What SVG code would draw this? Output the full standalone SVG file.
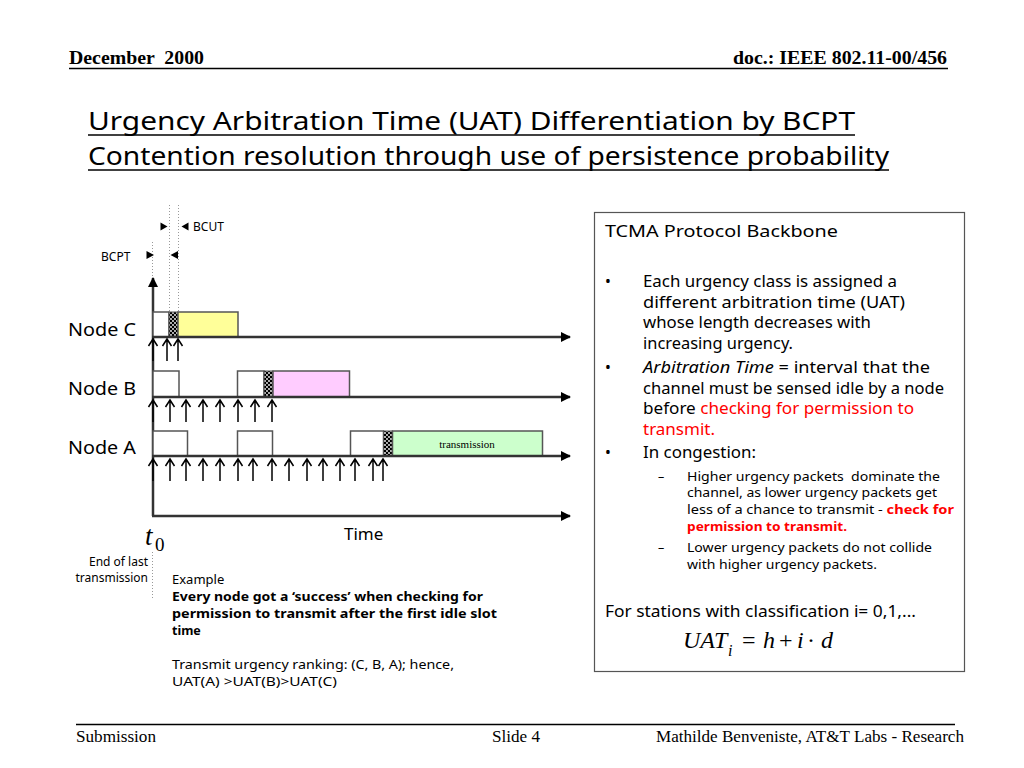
<svg xmlns="http://www.w3.org/2000/svg" xmlns:xlink="http://www.w3.org/1999/xlink" width="1024" height="768" viewBox="0 0 1024 768">
<defs>
<style>
.hdr{font-family:"Liberation Serif",serif;font-weight:bold;font-size:18px;fill:#000}
.ftr{font-family:"Liberation Serif",serif;font-size:16px;fill:#000}
.ttl{font-family:"Noto Sans",sans-serif;font-size:26px;fill:#000}
.cs{font-family:"Noto Sans",sans-serif;fill:#000}
.red{fill:#ff0000}
.tl{stroke:#333;stroke-width:2.5;fill:none}
.bx{stroke:#555;stroke-width:1.5;fill:#fff}
.dot{stroke:#999;stroke-width:1;stroke-dasharray:1 2;fill:none}
.up{stroke:#000;stroke-width:1.5;fill:none}
.tri{fill:#000}
.ser{font-family:"Liberation Serif",serif;font-style:italic;fill:#000}
.rom{font-family:"Liberation Serif",serif;font-style:normal;fill:#000}
</style>
<marker id="ah" markerWidth="10" markerHeight="10" viewBox="0 0 10 10" refX="9" refY="5" orient="auto" markerUnits="userSpaceOnUse">
<path d="M0,0 L10,5 L0,10 z" fill="#000"/>
</marker>
<pattern id="hatch" width="4" height="4" patternUnits="userSpaceOnUse">
<rect width="4" height="4" fill="#000"/>
<circle cx="1" cy="1" r="0.9" fill="#fff"/>
<circle cx="3" cy="3" r="0.9" fill="#fff"/>
</pattern>
<path id="up" d="M0,0 V22 M-4.5,7 L0,0 L4.5,7" class="up"/>
</defs>
<rect width="1024" height="768" fill="#fff"/>

<g id="header">
<text class="hdr" x="69" y="64" textLength="135" lengthAdjust="spacingAndGlyphs" xml:space="preserve">December  2000</text>
<text class="hdr" x="947" y="64" text-anchor="end" textLength="214" lengthAdjust="spacingAndGlyphs">doc.: IEEE 802.11-00/456</text>
<line x1="69" y1="68.5" x2="948" y2="68.5" stroke="#000" stroke-width="1.5"/>
</g>

<g id="title">
<text class="ttl" x="88" y="130" textLength="767" lengthAdjust="spacingAndGlyphs">Urgency Arbitration Time (UAT) Differentiation by BCPT</text>
<line x1="88" y1="135" x2="855" y2="135" stroke="#000" stroke-width="1.5"/>
<text class="ttl" x="88" y="165" textLength="801" lengthAdjust="spacingAndGlyphs">Contention resolution through use of persistence probability</text>
<line x1="88" y1="170" x2="889" y2="170" stroke="#000" stroke-width="1.5"/>
</g>

<g id="timing-markers">
<line class="dot" x1="152.5" y1="242" x2="152.5" y2="312"/>
<line class="dot" x1="169.5" y1="205" x2="169.5" y2="312"/>
<line class="dot" x1="178.5" y1="205" x2="178.5" y2="312"/>
<path class="tri" d="M160.5,222.5 L167.5,226.5 L160.5,230.5 z"/>
<path class="tri" d="M188.5,222.5 L181.5,226.5 L188.5,230.5 z"/>
<text class="cs" x="193" y="231" font-size="12">BCUT</text>
<text class="cs" x="101" y="261" font-size="12">BCPT</text>
<path class="tri" d="M146.5,251 L154,255 L146.5,259 z"/>
<path class="tri" d="M178,251 L170.5,255 L178,259 z"/>
</g>

<g id="axis">
<line class="tl" x1="153" y1="516" x2="153" y2="278" marker-end="url(#ah)"/>
<line class="tl" x1="152" y1="516" x2="570" y2="516" marker-end="url(#ah)"/>
<text class="cs" x="344" y="540" font-size="17">Time</text>
<text class="ser" x="145" y="545" font-size="27">t</text>
<text class="rom" x="155" y="551" font-size="19">0</text>
<line class="dot" x1="152.5" y1="552" x2="152.5" y2="600"/>
<text class="cs" x="148" y="566" font-size="12" text-anchor="end">End of last</text>
<text class="cs" x="148" y="582" font-size="12" text-anchor="end">transmission</text>
</g>

<g id="node-c">
<text class="cs" x="68" y="336" font-size="18" textLength="68" lengthAdjust="spacingAndGlyphs">Node C</text>
<rect class="bx" x="153" y="312" width="16" height="25"/>
<rect x="169" y="312" width="9" height="25" fill="url(#hatch)" stroke="#555" stroke-width="1"/>
<rect class="bx" x="178" y="312" width="60" height="25" style="fill:#ffff99"/>
<line class="tl" x1="152" y1="337" x2="570" y2="337" marker-end="url(#ah)"/>
</g>

<g id="node-b">
<text class="cs" x="68" y="395" font-size="18" textLength="68" lengthAdjust="spacingAndGlyphs">Node B</text>
<rect class="bx" x="153" y="371" width="26" height="26"/>
<rect class="bx" x="237.5" y="371" width="26.5" height="26"/>
<rect x="264" y="371" width="9" height="26" fill="url(#hatch)" stroke="#555" stroke-width="1"/>
<rect class="bx" x="273" y="371" width="76.5" height="26" style="fill:#ffccff"/>
<line class="tl" x1="152" y1="397" x2="570" y2="397" marker-end="url(#ah)"/>
</g>

<g id="node-a">
<text class="cs" x="68" y="454" font-size="18" textLength="68" lengthAdjust="spacingAndGlyphs">Node A</text>
<rect class="bx" x="153" y="431" width="34.5" height="25"/>
<rect class="bx" x="237.5" y="431" width="35" height="25"/>
<rect class="bx" x="350.5" y="431" width="33" height="25"/>
<rect x="383.5" y="431" width="9" height="25" fill="url(#hatch)" stroke="#555" stroke-width="1"/>
<rect class="bx" x="392.5" y="431" width="150" height="25" style="fill:#ccffcc"/>
<text x="467" y="448" font-family="Liberation Serif, serif" font-size="11" text-anchor="middle">transmission</text>
<line class="tl" x1="152" y1="456" x2="570" y2="456" marker-end="url(#ah)"/>
</g>

<g id="connectors">
<use xlink:href="#up" x="153" y="339"/>
<use xlink:href="#up" x="167" y="339"/>
<use xlink:href="#up" x="178" y="339"/>

<use xlink:href="#up" x="153" y="400"/>
<use xlink:href="#up" x="170" y="400"/>
<use xlink:href="#up" x="186" y="400"/>
<use xlink:href="#up" x="203" y="400"/>
<use xlink:href="#up" x="220" y="400"/>
<use xlink:href="#up" x="238" y="400"/>
<use xlink:href="#up" x="255" y="400"/>
<use xlink:href="#up" x="272" y="400"/>

<use xlink:href="#up" x="153" y="459"/>
<use xlink:href="#up" x="170" y="459"/>
<use xlink:href="#up" x="186" y="459"/>
<use xlink:href="#up" x="203" y="459"/>
<use xlink:href="#up" x="220" y="459"/>
<use xlink:href="#up" x="238" y="459"/>
<use xlink:href="#up" x="253" y="459"/>
<use xlink:href="#up" x="272" y="459"/>
<use xlink:href="#up" x="289" y="459"/>
<use xlink:href="#up" x="307" y="459"/>
<use xlink:href="#up" x="323" y="459"/>
<use xlink:href="#up" x="340" y="459"/>
<use xlink:href="#up" x="355" y="459"/>
<use xlink:href="#up" x="373" y="459"/>
<use xlink:href="#up" x="383" y="459"/>
</g>

<g id="example">
<text class="cs" x="172" y="584" font-size="13">Example</text>
<text class="cs" x="172" y="601" font-size="12.5" font-weight="bold" textLength="311" lengthAdjust="spacingAndGlyphs">Every node got a ‘success’ when checking for</text>
<text class="cs" x="172" y="618" font-size="12.5" font-weight="bold" textLength="325" lengthAdjust="spacingAndGlyphs">permission to transmit after the first idle slot</text>
<text class="cs" x="172" y="635" font-size="12.5" font-weight="bold">time</text>
<text class="cs" x="172" y="669" font-size="13" textLength="282" lengthAdjust="spacingAndGlyphs">Transmit urgency ranking: (C, B, A); hence,</text>
<text class="cs" x="172" y="686" font-size="13" textLength="165" lengthAdjust="spacingAndGlyphs">UAT(A) &gt;UAT(B)&gt;UAT(C)</text>
</g>

<g id="tcma-box">
<rect x="594.5" y="212.5" width="370" height="459" fill="#fff" stroke="#555" stroke-width="1.2"/>
<text class="cs" x="605" y="237" font-size="16.5" textLength="233" lengthAdjust="spacingAndGlyphs">TCMA Protocol Backbone</text>
<g font-size="15.5">
<text class="cs" x="605" y="287">•</text>
<text class="cs" x="643" y="287" textLength="254" lengthAdjust="spacingAndGlyphs">Each urgency class is assigned a</text>
<text class="cs" x="643" y="308" textLength="262" lengthAdjust="spacingAndGlyphs">different arbitration time (UAT)</text>
<text class="cs" x="643" y="328" textLength="228" lengthAdjust="spacingAndGlyphs">whose length decreases with</text>
<text class="cs" x="643" y="349" textLength="150" lengthAdjust="spacingAndGlyphs">increasing urgency.</text>
<text class="cs" x="605" y="373">•</text>
<text class="cs" x="643" y="373" textLength="287" lengthAdjust="spacingAndGlyphs"><tspan font-style="italic">Arbitration Time</tspan> = interval that the</text>
<text class="cs" x="643" y="394" textLength="301" lengthAdjust="spacingAndGlyphs">channel must be sensed idle by a node</text>
<text class="cs" x="643" y="414" textLength="271" lengthAdjust="spacingAndGlyphs">before <tspan class="red">checking for permission to</tspan></text>
<text class="cs red" x="643" y="435" textLength="72" lengthAdjust="spacingAndGlyphs">transmit.</text>
<text class="cs" x="605" y="458">•</text>
<text class="cs" x="643" y="458" textLength="113" lengthAdjust="spacingAndGlyphs">In congestion:</text>
</g>
<g font-size="12.5">
<text class="cs" x="658" y="481">–</text>
<text class="cs" x="687" y="481" textLength="253" lengthAdjust="spacingAndGlyphs" xml:space="preserve">Higher urgency packets  dominate the</text>
<text class="cs" x="687" y="497" textLength="250" lengthAdjust="spacingAndGlyphs">channel, as lower urgency packets get</text>
<text class="cs" x="687" y="514" textLength="267" lengthAdjust="spacingAndGlyphs">less of a chance to transmit - <tspan class="red" font-weight="bold">check for</tspan></text>
<text class="cs red" x="687" y="531" font-weight="bold" textLength="160" lengthAdjust="spacingAndGlyphs">permission to transmit.</text>
<text class="cs" x="658" y="552">–</text>
<text class="cs" x="687" y="552" textLength="245" lengthAdjust="spacingAndGlyphs">Lower urgency packets do not collide</text>
<text class="cs" x="687" y="569" textLength="190" lengthAdjust="spacingAndGlyphs">with higher urgency packets.</text>
</g>
<text class="cs" x="605" y="617" font-size="15.5" textLength="311" lengthAdjust="spacingAndGlyphs">For stations with classification i= 0,1,...</text>
<text class="ser" x="683" y="648" font-size="24">UAT</text>
<text class="ser" x="728" y="656" font-size="16">i</text>
<text class="rom" x="742" y="648" font-size="24">=</text>
<text class="ser" x="763" y="648" font-size="24">h</text>
<text class="rom" x="779" y="648" font-size="24">+</text>
<text class="ser" x="797" y="648" font-size="24">i</text>
<text class="rom" x="807" y="648" font-size="24">·</text>
<text class="ser" x="821" y="648" font-size="24">d</text>
</g>

<g id="footer">
<line x1="76" y1="724.5" x2="955" y2="724.5" stroke="#000" stroke-width="1.5"/>
<text class="ftr" x="76" y="742" textLength="80" lengthAdjust="spacingAndGlyphs">Submission</text>
<text class="ftr" x="492" y="742" textLength="48" lengthAdjust="spacingAndGlyphs">Slide 4</text>
<text class="ftr" x="964" y="742" text-anchor="end" textLength="308" lengthAdjust="spacingAndGlyphs">Mathilde Benveniste, AT&amp;T Labs - Research</text>
</g>
</svg>
